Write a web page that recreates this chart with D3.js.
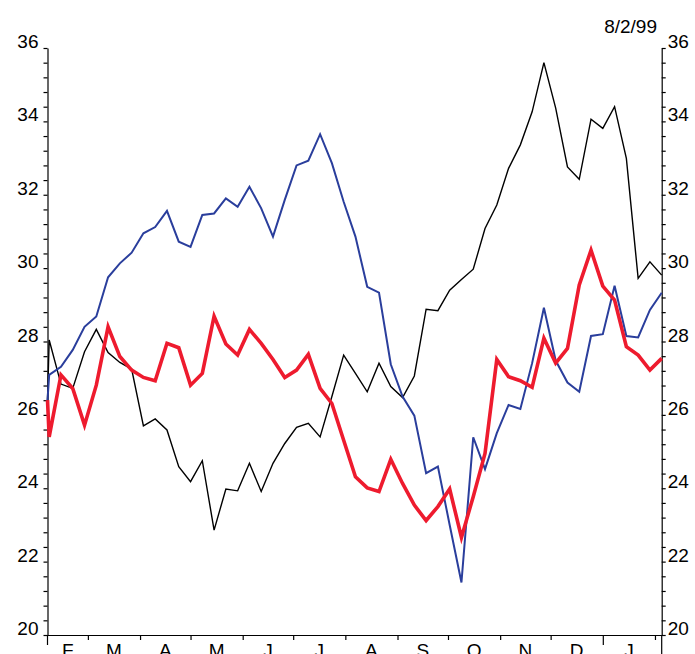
<!DOCTYPE html>
<html>
<head>
<meta charset="utf-8">
<script src="https://cdn.jsdelivr.net/npm/d3@7"></script>
<style>
  body { margin: 0; background: #fff; }
  svg { display: block; }
  text { font-family: "Liberation Sans", Arial, sans-serif; font-size: 19px; fill: #000; }
</style>
</head>
<body>
<div id="chart"></div>
<script>
// time window: one year ending on the stamp date, weekly (Friday) closes
const startDate = new Date(1998, 1, 5);
const endDate = new Date(1999, 1, 5);
const firstFriday = new Date(1998, 1, 6);
const stampLabel = "8/2/99";

const monthLabels = ["F", "M", "A", "M", "J", "J", "A", "S", "O", "N", "D", "J"];
const yLabels = [20, 22, 24, 26, 28, 30, 32, 34, 36];

// first value is the base date, then one value per week
const blackValues = [26.4,
  28.04, 26.84, 26.72, 27.72, 28.33, 27.70, 27.43, 27.25, 25.70, 25.89,
  25.59, 24.59, 24.18, 24.75, 22.86, 23.98, 23.93, 24.68, 23.91, 24.68,
  25.22, 25.66, 25.77, 25.40, 26.50, 27.63, 27.13, 26.63, 27.41, 26.77,
  26.47, 27.06, 28.88, 28.84, 29.40, 29.69, 29.97, 31.08, 31.72, 32.72,
  33.36, 34.26, 35.60, 34.36, 32.76, 32.42, 34.06, 33.81, 34.40, 32.99,
  29.72, 30.17, 29.81];

const blueValues = [26.4,
  27.09, 27.31, 27.77, 28.40, 28.68, 29.75, 30.13, 30.42, 30.95, 31.12,
  31.56, 30.72, 30.58, 31.45, 31.49, 31.90, 31.67, 32.22, 31.63, 30.86,
  31.86, 32.80, 32.93, 33.65, 32.86, 31.81, 30.86, 29.49, 29.33, 27.38,
  26.50, 25.98, 24.41, 24.59, 23.00, 21.43, 25.39, 24.52, 25.50, 26.27,
  26.16, 27.41, 28.92, 27.48, 26.88, 26.63, 28.15, 28.20, 29.52, 28.15,
  28.11, 28.86, 29.33];

const redValues = [26.4,
  25.40, 27.09, 26.72, 25.72, 26.81, 28.40, 27.59, 27.22, 27.02, 26.93,
  27.95, 27.83, 26.81, 27.13, 28.69, 27.93, 27.63, 28.33, 27.95, 27.51,
  27.02, 27.22, 27.65, 26.72, 26.31, 25.31, 24.31, 24.01, 23.91, 24.79,
  24.13, 23.54, 23.12, 23.50, 23.98, 22.66, 23.77, 24.95, 27.51, 27.04,
  26.93, 26.75, 28.09, 27.41, 27.81, 29.54, 30.49, 29.51, 29.13, 27.86,
  27.63, 27.22, 27.54];

const width = 695, height = 654;
const plotLeft = 47.5, plotRight = 661.7, plotTop = 48, plotBottom = 635;

const dates = [startDate].concat(d3.timeFriday.range(firstFriday, d3.timeDay.offset(endDate, 1)));

const svg = d3.select("#chart").append("svg")
  .attr("width", width)
  .attr("height", height);

const x = d3.scaleTime().domain([startDate, endDate]).range([plotLeft, plotRight]);
const y = d3.scaleLinear().domain([20, 36]).range([plotBottom, plotTop]);

const minorTicks = d3.range(0, 41).map(i => 20 + i * 0.4);

// left axis
const axisL = svg.append("g")
  .attr("transform", `translate(${plotLeft},0)`)
  .call(d3.axisLeft(y).tickValues(minorTicks).tickSize(4).tickSizeOuter(0).tickFormat(""));

// right axis
const axisR = svg.append("g")
  .attr("transform", `translate(${plotRight},0)`)
  .call(d3.axisRight(y).tickValues(minorTicks).tickSize(4).tickSizeOuter(0).tickFormat(""));

// bottom axis, ticks at month starts
const monthStarts = d3.timeMonth.range(d3.timeDay.offset(startDate, 1), endDate);
const axisB = svg.append("g")
  .attr("transform", `translate(0,${plotBottom})`)
  .call(d3.axisBottom(x).tickValues(monthStarts).tickSize(5).tickSizeOuter(0).tickFormat(""));
axisB.selectAll(".tick line")
  .attr("y2", d => d.getMonth() === 0 ? 10 : 5);

[axisL, axisR, axisB].forEach(a => {
  a.selectAll("path, line").attr("stroke", "#000").attr("stroke-width", 1.2);
});

// axis lines run past the bottom axis
svg.append("line")
  .attr("x1", plotLeft).attr("x2", plotLeft)
  .attr("y1", plotBottom).attr("y2", plotBottom + 10)
  .attr("stroke", "#000").attr("stroke-width", 1.2);
svg.append("line")
  .attr("x1", plotRight).attr("x2", plotRight)
  .attr("y1", plotBottom).attr("y2", height)
  .attr("stroke", "#000").attr("stroke-width", 1.2);

// y labels, baseline on the tick
svg.append("g").selectAll("text")
  .data(yLabels)
  .join("text")
  .attr("x", plotLeft - 9)
  .attr("y", d => y(d))
  .attr("text-anchor", "end")
  .text(d => d);

svg.append("g").selectAll("text")
  .data(yLabels)
  .join("text")
  .attr("x", plotRight + 6)
  .attr("y", d => y(d))
  .attr("text-anchor", "start")
  .text(d => d);

// month letters, centred in each visible month
const bounds = [startDate].concat(monthStarts, [endDate]);
svg.append("g").selectAll("text")
  .data(monthLabels)
  .join("text")
  .attr("x", (d, i) => (x(bounds[i]) + x(bounds[i + 1])) / 2)
  .attr("y", plotBottom + 22)
  .attr("text-anchor", "middle")
  .text(d => d);

svg.append("text")
  .attr("x", 657)
  .attr("y", 33)
  .attr("text-anchor", "end")
  .text(stampLabel);

// series
const line = d3.line()
  .x((d, i) => x(dates[i]))
  .y(d => y(d));

const series = [
  { values: blackValues, color: "#000000", w: 1.4 },
  { values: blueValues, color: "#2a3e9c", w: 2 },
  { values: redValues, color: "#ee1b2e", w: 3.6 }
];

svg.append("g").selectAll("path")
  .data(series)
  .join("path")
  .attr("fill", "none")
  .attr("stroke", d => d.color)
  .attr("stroke-width", d => d.w)
  .attr("stroke-linejoin", "miter")
  .attr("d", d => line(d.values));
</script>
</body>
</html>
